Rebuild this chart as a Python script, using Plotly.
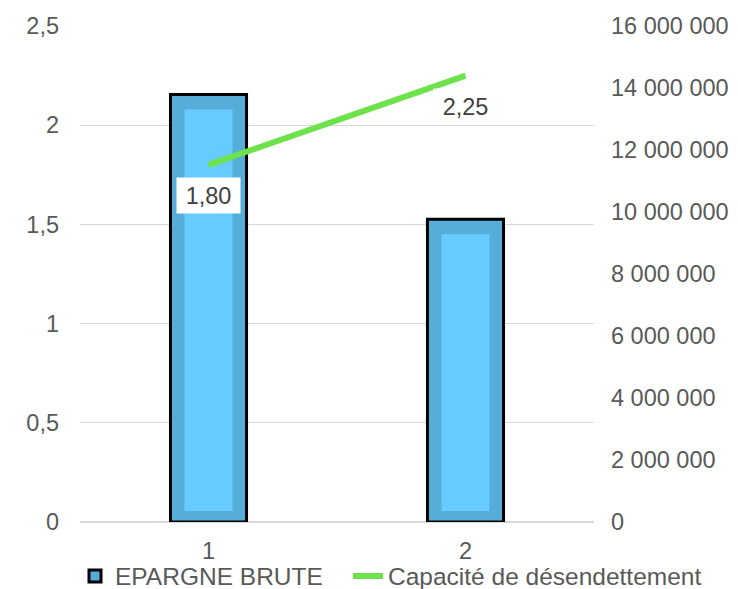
import plotly.graph_objects as go

categories = [1, 2]
epargne_brute = [13790000, 9770000]
capacite = [1.80, 2.25]
capacite_labels = ["1,80", "2,25"]
left_ticks = [0, 0.5, 1, 1.5, 2, 2.5]
right_ticks = [0, 2000000, 4000000, 6000000, 8000000, 10000000, 12000000, 14000000, 16000000]

W, H = 738, 589
ML, MR, MT, MB = 80, 144, 26, 67
PLOT_W = W - ML - MR
PLOT_H = H - MT - MB
Y2_MAX = 16000000
Y_MAX = 2.5

FONT = "Liberation Sans, Arial, sans-serif"
TXT = "#595959"
MID_BLUE = "#56ADD8"
LIGHT_BLUE = "#66CCFF"
GREEN = "#6DE24A"
TICK_SIZE = 23.5
LEG_SIZE = 24.5

# inner highlight of the bars (style insets in pixels converted to axis units)
px2 = Y2_MAX / PLOT_H
inner_top_pad = 15 * px2
inner_bottom_pad = 11 * px2

fig = go.Figure()

# bars on the primary axis (drawn at right), line on the overlaying axis (left) so it sits on top
fig.add_trace(go.Bar(
    x=categories, y=epargne_brute, yaxis="y", name="EPARGNE BRUTE",
    width=0.296, marker=dict(color=MID_BLUE, line=dict(color="#000000", width=3)),
    showlegend=True, legend="legend", hoverinfo="skip",
))
fig.add_trace(go.Bar(
    x=categories, y=[v - inner_top_pad - inner_bottom_pad for v in epargne_brute],
    base=[inner_bottom_pad] * len(categories), yaxis="y",
    width=0.187, marker=dict(color=LIGHT_BLUE, line=dict(width=0)),
    showlegend=False, hoverinfo="skip",
))
fig.add_trace(go.Scatter(
    x=categories, y=capacite, yaxis="y2", mode="lines", name="Capacité de désendettement",
    line=dict(color=GREEN, width=6), legend="legend2",
))

for xv, yv, lab in zip(categories, capacite, capacite_labels):
    fig.add_annotation(
        x=xv, y=yv, xref="x", yref="y2", text=lab, showarrow=False,
        yshift=-31, bgcolor="#FFFFFF", width=63, height=35, borderpad=0,
        font=dict(family=FONT, size=TICK_SIZE, color="#404040"),
    )

leg_y = -(576 - (MT + PLOT_H)) / PLOT_H

fig.update_layout(
    width=W, height=H,
    margin=dict(l=ML, r=MR, t=MT, b=MB, autoexpand=False),
    paper_bgcolor="#FFFFFF", plot_bgcolor="#FFFFFF",
    barmode="overlay",
    separators=", ",
    font=dict(family=FONT, size=TICK_SIZE, color=TXT),
    xaxis=dict(
        range=[0.5, 2.5], tickvals=categories, ticktext=[str(c) for c in categories],
        showgrid=False, zeroline=False, showline=False, ticks="",
        ticklabelstandoff=12, tickfont=dict(size=TICK_SIZE, color=TXT),
    ),
    yaxis=dict(
        range=[0, Y2_MAX], tickvals=right_ticks, tickformat=",d",
        side="right", showgrid=False, zeroline=False, showline=False, ticks="",
        ticklabelstandoff=16, tickfont=dict(size=TICK_SIZE, color=TXT),
    ),
    yaxis2=dict(
        range=[0, Y_MAX], tickvals=left_ticks, overlaying="y", side="left",
        showgrid=True, gridcolor="#D9D9D9", gridwidth=1,
        zeroline=True, zerolinecolor="#D9D9D9", zerolinewidth=2,
        showline=False, ticks="", ticklabelstandoff=20, tickfont=dict(size=TICK_SIZE, color=TXT),
    ),
    legend=dict(
        orientation="h",
        x=(75 - ML) / PLOT_W, xanchor="left", y=leg_y, yanchor="middle",
        font=dict(size=LEG_SIZE, color=TXT), bgcolor="rgba(0,0,0,0)",
        itemwidth=30,
    ),
    legend2=dict(
        orientation="h",
        x=(348 - ML) / PLOT_W, xanchor="left", y=leg_y, yanchor="middle",
        font=dict(size=LEG_SIZE, color=TXT), bgcolor="rgba(0,0,0,0)",
        itemwidth=30,
    ),
)

fig.write_html("out.html")
